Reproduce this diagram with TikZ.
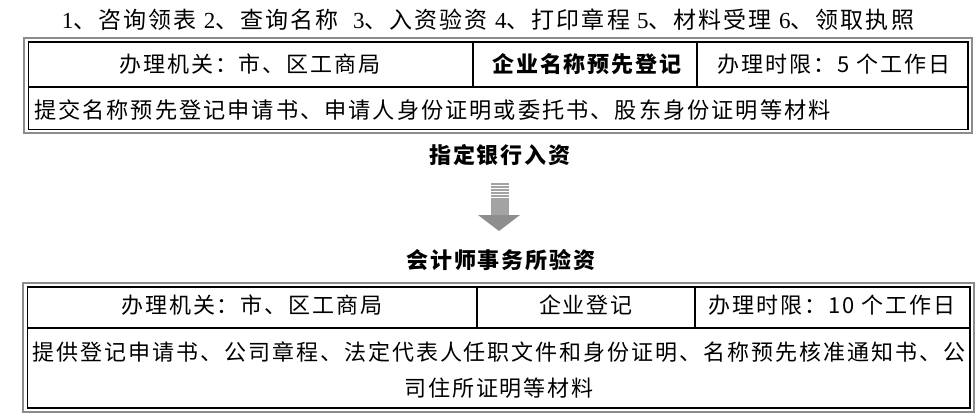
\documentclass[tikz,border=0pt]{standalone}
\usepackage{fontspec}
\setmainfont{Noto Sans CJK SC}[LetterSpace = 9]
\newfontfamily\stepsfont{Liberation Serif}
\definecolor{framegray}{HTML}{8C8C8C}
\definecolor{arrowgray}{HTML}{A3A3A3}
\definecolor{headgray}{HTML}{8E8E8E}
\tikzset{
  outerframe/.style = {draw = framegray, line width = 2.5pt},
  innerframe/.style = {draw = black, line width = 1.2pt},
  cellrule/.style = {draw = black, line width = 2.8pt},
  celltext/.style = {inner sep = 0pt},
  titletext/.style = {inner sep = 0pt, font = \fontsize{22}{36}\selectfont\bfseries},
}
\begin{document}
\begin{tikzpicture}[x = 1pt, y = -1pt, font = \fontsize{22}{36}\selectfont]
  \useasboundingbox (0, 0) rectangle (979, 418);
  % steps line
  \node[celltext, font = \fontsize{23}{36}\selectfont] (steps) at (488, 20) {{\stepsfont 1}、咨询领表 {\stepsfont 2}、查询名称~ {\stepsfont 3}、入资验资 {\stepsfont 4}、打印章程 {\stepsfont 5}、材料受理 {\stepsfont 6}、领取执照};
  % first table
  \draw[outerframe] (24, 38) rectangle (972, 133);
  \draw[innerframe] (28.5, 42) rectangle (968, 129.5);
  \draw[cellrule] (28.5, 87) -- (968, 87);
  \draw[cellrule] (473, 42) -- (473, 87);
  \draw[cellrule] (697, 42) -- (697, 87);
  \node[celltext] (office1) at (250, 64) {办理机关：市、区工商局};
  \node[titletext] (name1) at (587, 64) {企业名称预先登记};
  \node[celltext] (limit1) at (834, 64) {办理时限：5 个工作日};
  \node[celltext, anchor = west, font = \fontsize{22.2}{36}\selectfont] (docs1) at (34, 110) {提交名称预先登记申请书、申请人身份证明或委托书、股东身份证明等材料};
  % bank and audit
  \node[titletext] (bank) at (500, 155) {指定银行入资};
  \fill[arrowgray] (491, 183) -- (509, 183) -- (509, 216) -- (491, 216) -- cycle;
  \fill[headgray] (478, 215) -- (520, 215) -- (499, 231) -- cycle;
  \foreach \y in {185, 188, 191, 194, 197.5}
    \draw[white, line width = 1pt] (491, \y) -- (509, \y);
  \node[titletext] (audit) at (501, 260) {会计师事务所验资};
  % second table
  \draw[outerframe] (23, 283) rectangle (974, 412);
  \draw[innerframe] (27.5, 287) rectangle (970, 408);
  \draw[cellrule] (27.5, 328) -- (970, 328);
  \draw[cellrule] (477, 287) -- (477, 328);
  \draw[cellrule] (695, 287) -- (695, 328);
  \node[celltext] (office2) at (252, 305) {办理机关：市、区工商局};
  \node[celltext] (name2) at (586, 305) {企业登记};
  \node[celltext] (limit2) at (832, 305) {办理时限：10 个工作日};
  \node[celltext, align = center] (docs2) at (499, 370) {提供登记申请书、公司章程、法定代表人任职文件和身份证明、名称预先核准通知书、公\\司住所证明等材料};
\end{tikzpicture}
\end{document}
